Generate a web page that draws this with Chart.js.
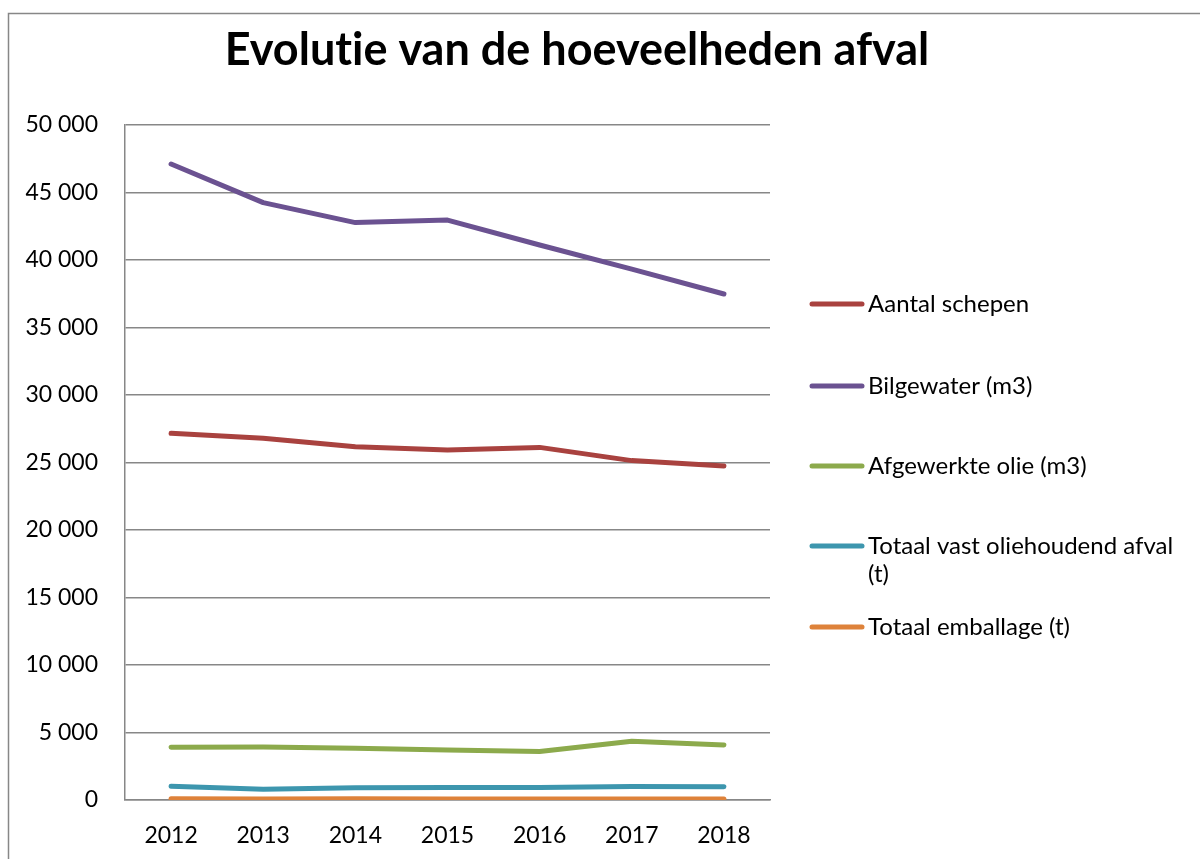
<!DOCTYPE html>
<html>
<head>
<meta charset="utf-8">
<script src="https://cdn.jsdelivr.net/npm/chart.js@4/dist/chart.umd.min.js"></script>
<style>
    html, body { margin: 0; padding: 0; background: #fff; }
    #wrap { width: 1200px; height: 859px; }
</style>
</head>
<body>
<div id="wrap"><canvas id="afvalChart" width="1200" height="859"></canvas></div>
<script>
// ==========================
// Data
// ==========================
const years = ['2012', '2013', '2014', '2015', '2016', '2017', '2018'];
const aantalSchepen = [27160, 26790, 26170, 25930, 26120, 25140, 24740];
const bilgewater = [47110, 44250, 42770, 42960, 41110, 39330, 37480];
const afgewerkteOlie = [3900, 3925, 3825, 3700, 3600, 4350, 4075];
const vastOliehoudend = [1025, 800, 900, 925, 925, 1000, 975];
const emballage = [90, 80, 85, 80, 80, 75, 75];

const seriesNames = ['Aantal schepen', 'Bilgewater (m3)', 'Afgewerkte olie (m3)', 'Totaal vast oliehoudend afval (t)', 'Totaal emballage (t)'];
const seriesColors = ['#A9423F', '#6B5291', '#8CAA4C', '#3D96AE', '#DE823A'];

const FONT = 'Lato, "Open Sans", sans-serif';

function fmt(v) {
    return String(v).replace(/\B(?=(\d{3})+(?!\d))/g, ' ');
}

// ==========================
// Frame, title and legend
// ==========================
const decorPlugin = {
    id: 'decor',
    beforeDraw(chart) {
        const ctx = chart.ctx;
        ctx.save();
        ctx.strokeStyle = '#878787';
        ctx.lineWidth = 1.5;
        ctx.beginPath();
        ctx.moveTo(8.5, 870);
        ctx.lineTo(8.5, 13.5);
        ctx.lineTo(1210, 13.5);
        ctx.stroke();
        ctx.restore();
    },
    afterDraw(chart) {
        const ctx = chart.ctx;
        ctx.save();
        ctx.fillStyle = '#000';
        ctx.font = 'bold 45px ' + FONT;
        ctx.textAlign = 'center';
        ctx.textBaseline = 'middle';
        // zero-width non-joiner keeps "ti" from becoming a ligature
        ctx.fillText('Evolut\u200Cie van de hoeveelheden afval', 577, 50);

        const rows = [[304], [386], [466], [546, 574], [627]];
        ctx.font = '24px ' + FONT;
        ctx.textAlign = 'left';
        chart.data.datasets.forEach((ds, i) => {
            const y = rows[i][0];
            ctx.strokeStyle = ds.borderColor;
            ctx.lineWidth = 5;
            ctx.lineCap = 'round';
            ctx.beginPath();
            ctx.moveTo(812, y);
            ctx.lineTo(862, y);
            ctx.stroke();
            ctx.fillStyle = '#000';
            if (rows[i].length > 1) {
                ctx.fillText('Totaal vast oliehoudend afval', 868, y);
                ctx.fillText('(t)', 868, rows[i][1]);
            } else {
                ctx.fillText(ds.label, 868, y);
            }
        });
        ctx.restore();
    }
};

// ==========================
// Chart
// ==========================
const allSeries = [aantalSchepen, bilgewater, afgewerkteOlie, vastOliehoudend, emballage];

new Chart(document.getElementById('afvalChart').getContext('2d'), {
    type: 'line',
    data: {
        labels: years,
        datasets: allSeries.map((vals, i) => ({
            label: seriesNames[i],
            data: vals,
            borderColor: seriesColors[i],
            backgroundColor: seriesColors[i],
            borderWidth: 5,
            borderCapStyle: 'round',
            borderJoinStyle: 'round',
            pointRadius: 0,
            tension: 0,
            fill: false
        }))
    },
    options: {
        responsive: false,
        animation: false,
        layout: { padding: { left: 0, right: 430, top: 125, bottom: 0 } },
        plugins: {
            legend: { display: false },
            title: { display: false },
            tooltip: { enabled: false }
        },
        scales: {
            x: {
                offset: true,
                grid: { display: false, drawTicks: false },
                border: { color: '#878787', width: 1.5 },
                ticks: { color: '#000', font: { family: FONT, size: 23 }, padding: 22, maxRotation: 0 },
                afterFit(scale) { scale.height = 59; }
            },
            y: {
                min: 0,
                max: 50000,
                grid: { color: '#878787', lineWidth: 1.5, drawTicks: false },
                border: { color: '#878787', width: 1.5 },
                ticks: {
                    stepSize: 5000,
                    color: '#000',
                    font: { family: FONT, size: 23 },
                    padding: 27,
                    callback: v => fmt(v)
                },
                afterFit(scale) { scale.width = 125; }
            }
        }
    },
    plugins: [decorPlugin]
});
</script>
</body>
</html>
